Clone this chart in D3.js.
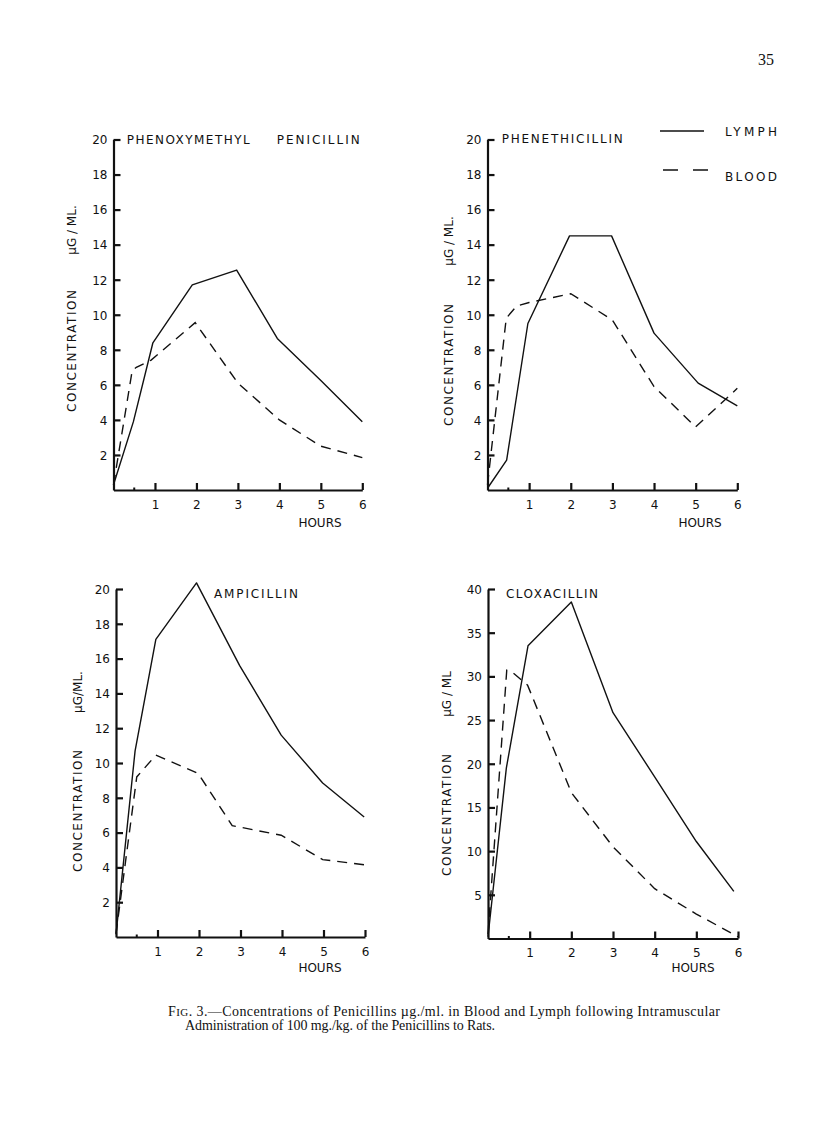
<!DOCTYPE html>
<html>
<head>
<meta charset="utf-8">
<script src="https://cdn.jsdelivr.net/npm/d3@7"></script>
<style>
  body { margin: 0; background: #fff; }
  svg { display: block; }
  .axis path, .axis line { stroke: #111; stroke-width: 2.2; }
  .axis text { font-family: "DejaVu Sans", sans-serif; font-size: 12px; fill: #111; }
  .lbl { font-family: "DejaVu Sans", sans-serif; font-size: 12px; fill: #111; }
  .cap { font-family: "Liberation Serif", serif; font-size: 14px; fill: #111; }
</style>
</head>
<body>
<div id="chart"></div>
<script>
// titles of the four panels
const titles = [['PHENOXYMETHYL', 'PENICILLIN'], ['PHENETHICILLIN'], ['AMPICILLIN'], ['CLOXACILLIN']];

// values (hours, µg/ml)
const phenoxyLymphHours = [0, 0.48, 0.95, 1.9, 2.97, 3.95, 5, 6];
const phenoxyLymph      = [0.3, 3.9, 8.4, 11.7, 12.55, 8.65, 6.25, 3.9];
const phenoxyBloodHours = [0, 0.45, 0.55, 0.9, 1.97, 3, 4, 5, 6];
const phenoxyBlood      = [0.3, 6.8, 7.0, 7.4, 9.55, 6.1, 4.0, 2.5, 1.85];

const phenethLymphHours = [0, 0.46, 0.97, 1.97, 2.98, 4, 5.06, 6];
const phenethLymph      = [0.1, 1.7, 9.5, 14.5, 14.5, 8.95, 6.1, 4.8];
const phenethBloodHours = [0, 0.45, 0.7, 1, 2, 3, 4, 5, 6];
const phenethBlood      = [0.3, 9.8, 10.5, 10.7, 11.2, 9.7, 5.9, 3.6, 5.8];

const ampiLymphHours = [0, 0.46, 0.96, 1.94, 2.98, 3.98, 4.98, 5.98];
const ampiLymph      = [0.15, 10.7, 17.1, 20.35, 15.6, 11.6, 8.85, 6.9];
const ampiBloodHours = [0, 0.5, 0.96, 1.98, 2.8, 3.98, 4.98, 5.98];
const ampiBlood      = [0.2, 9.2, 10.45, 9.4, 6.4, 5.85, 4.45, 4.15];

const cloxaLymphHours = [0, 0.44, 0.96, 2.0, 3.0, 4.0, 5.0, 5.9];
const cloxaLymph      = [0.2, 19.5, 33.5, 38.5, 25.85, 18.5, 11.1, 5.4];
const cloxaBloodHours = [0, 0.45, 0.6, 0.95, 2.0, 3.0, 4.0, 5.0, 6.0];
const cloxaBlood      = [0.5, 30.7, 30.4, 29.0, 16.7, 10.5, 5.7, 2.8, 0.2];

// tick labels
const hourTicks = [1, 2, 3, 4, 5, 6];
const yTicks20 = [2, 4, 6, 8, 10, 12, 14, 16, 18, 20];
const yTicks40 = [5, 10, 15, 20, 25, 30, 35, 40];
const legendNames = ['LYMPH', 'BLOOD'];

const zip = (h, v) => h.map((d, i) => ({ h: d, v: v[i] }));

// page layout of each panel
const layout = [
  { x0: 113.5, x6: 362.3, y0: 490, yTop: 139.5, yMax: 20, ticks: yTicks20,
    lymph: zip(phenoxyLymphHours, phenoxyLymph), blood: zip(phenoxyBloodHours, phenoxyBlood),
    title: [[126.7, 143.5, 123], [276.7, 143.5, 83]], conc: [72, 351], ug: [72, 230], hours: [320, 527] },
  { x0: 487.5, x6: 737.3, y0: 490, yTop: 139.5, yMax: 20, ticks: yTicks20,
    lymph: zip(phenethLymphHours, phenethLymph), blood: zip(phenethBloodHours, phenethBlood),
    title: [[501.7, 143, 121]], conc: [449, 365], ug: [449, 241], hours: [700, 527] },
  { x0: 116, x6: 365, y0: 937, yTop: 589, yMax: 20, ticks: yTicks20,
    lymph: zip(ampiLymphHours, ampiLymph), blood: zip(ampiBloodHours, ampiBlood),
    title: [[214, 597.5, 84]], conc: [78, 811], ug: [78, 692], hours: [320, 972] },
  { x0: 488, x6: 738, y0: 938.5, yTop: 589, yMax: 40, ticks: yTicks40,
    lymph: zip(cloxaLymphHours, cloxaLymph), blood: zip(cloxaBloodHours, cloxaBlood),
    title: [[506, 597.5, 92]], conc: [447, 815], ug: [447, 694], hours: [693, 972] }
];

const svg = d3.select('#chart').append('svg')
  .attr('width', 816).attr('height', 1141)
  .style('background', '#fff');

// page number
svg.append('text').attr('class', 'cap').attr('x', 758).attr('y', 65)
  .style('font-size', '16px').text('35');

layout.forEach((p, i) => {
  const x = d3.scaleLinear().domain([0, 6]).range([p.x0, p.x6]);
  const y = d3.scaleLinear().domain([0, p.yMax]).range([p.y0, p.yTop]);

  // y axis: ticks point inward, labels outside
  svg.append('g').attr('class', 'axis')
    .attr('transform', `translate(${p.x0},0)`)
    .call(d3.axisLeft(y).tickValues(p.ticks).tickFormat(d3.format('d'))
      .tickSizeInner(-7).tickSizeOuter(0).tickPadding(6))
    .call(g => g.selectAll('text').attr('dy', '0.36em'));

  // x axis
  svg.append('g').attr('class', 'axis')
    .attr('transform', `translate(0,${p.y0})`)
    .call(d3.axisBottom(x).tickValues(hourTicks).tickFormat(d3.format('d'))
      .tickSizeInner(-7).tickSizeOuter(0).tickPadding(10));

  // little half-hour mark
  svg.append('line')
    .attr('x1', x(0.5)).attr('x2', x(0.5))
    .attr('y1', p.y0).attr('y2', p.y0 - 2.5)
    .attr('stroke', '#111').attr('stroke-width', 2);

  const line = d3.line().x(d => x(d.h)).y(d => y(d.v));

  svg.append('path').datum(p.lymph)
    .attr('d', line).attr('fill', 'none')
    .attr('stroke', '#111').attr('stroke-width', 1.4).attr('stroke-linejoin', 'round');

  svg.append('path').datum(p.blood)
    .attr('d', line).attr('fill', 'none')
    .attr('stroke', '#111').attr('stroke-width', 1.4)
    .attr('stroke-dasharray', '10,7');

  // title(s)
  titles[i].forEach((t, k) => {
    const [tx, ty, tl] = p.title[k];
    svg.append('text').attr('class', 'lbl')
      .attr('x', tx).attr('y', ty)
      .attr('textLength', tl).attr('lengthAdjust', 'spacing')
      .text(t);
  });

  // rotated y labels
  svg.append('text').attr('class', 'lbl')
    .attr('transform', `translate(${p.conc[0]},${p.conc[1]}) rotate(-90)`)
    .attr('text-anchor', 'middle').attr('dy', '0.36em')
    .attr('textLength', 122).attr('lengthAdjust', 'spacing')
    .text('CONCENTRATION');
  svg.append('text').attr('class', 'lbl')
    .attr('transform', `translate(${p.ug[0]},${p.ug[1]}) rotate(-90)`)
    .attr('text-anchor', 'middle').attr('dy', '0.36em')
    .text(i === 3 ? 'µG / ML' : (i === 2 ? 'µG/ML.' : 'µG / ML.'));

  svg.append('text').attr('class', 'lbl')
    .attr('x', p.hours[0]).attr('y', p.hours[1])
    .attr('text-anchor', 'middle')
    .text('HOURS');
});

// legend
svg.append('line').attr('x1', 660).attr('x2', 704).attr('y1', 131).attr('y2', 131)
  .attr('stroke', '#111').attr('stroke-width', 1.4);
svg.append('line').attr('x1', 663).attr('x2', 708).attr('y1', 170).attr('y2', 170)
  .attr('stroke', '#111').attr('stroke-width', 1.4).attr('stroke-dasharray', '15,15');
svg.append('text').attr('class', 'lbl').attr('x', 725).attr('y', 136).attr('textLength', 52).text(legendNames[0]);
svg.append('text').attr('class', 'lbl').attr('x', 725).attr('y', 181).attr('textLength', 52).text(legendNames[1]);

// caption
const c1 = svg.append('text').attr('class', 'cap').attr('x', 168).attr('y', 1016)
  .attr('textLength', 552).attr('lengthAdjust', 'spacing');
c1.append('tspan').text('F');
c1.append('tspan').style('font-size', '11px').text('IG');
c1.append('tspan').text('. 3.—Concentrations of Penicillins µg./ml. in Blood and Lymph following Intramuscular');
svg.append('text').attr('class', 'cap').attr('x', 185).attr('y', 1030)
  .attr('textLength', 310).attr('lengthAdjust', 'spacing')
  .text('Administration of 100 mg./kg. of the Penicillins to Rats.');
</script>
</body>
</html>
